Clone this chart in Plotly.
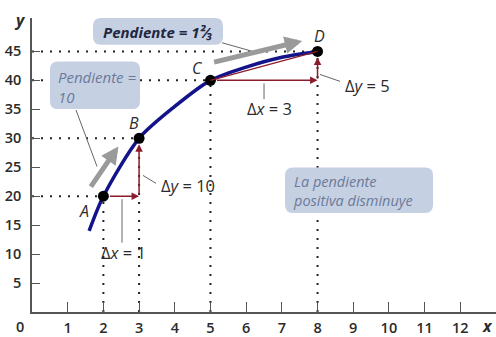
import plotly.graph_objects as go

# ---- data ----
curve_x = [1.6, 2, 3, 4, 5, 6, 7, 8]
curve_y = [14, 20, 30, 35.5, 40, 42.3, 44, 45]
point_labels = ["A", "B", "C", "D"]
point_x = [2, 3, 5, 8]
point_y = [20, 30, 40, 45]
x_ticks = [1, 2, 3, 4, 5, 6, 7, 8, 9, 10, 11, 12]
y_ticks = [5, 10, 15, 20, 25, 30, 35, 40, 45]

RED = "#8c1c2c"
GRAY = "#9a9a9a"
BOX = "#c6d0e3"
BOXTXT = "#6b7b99"
TXT = "#2b2b2b"
FONT = "Open Sans"

fig = go.Figure()

shapes = []
# dotted guides
for px, py in zip(point_x, point_y):
    shapes.append(dict(type="line", xref="x", yref="y", x0=0, x1=px, y0=py, y1=py,
                       line=dict(color="#222", width=2, dash="2px,7px"), layer="below"))
    shapes.append(dict(type="line", xref="x", yref="y", x0=px, x1=px, y0=0, y1=py,
                       line=dict(color="#222", width=2, dash="2px,7px"), layer="below"))


def X(p):
    return (p - 32) / 35.69


def Y(p):
    return (315 - p) / 5.85


def rrect(x0, y0, x1, y1, r=8):
    path = (f"M {X(x0+r)},{Y(y0)} L {X(x1-r)},{Y(y0)} Q {X(x1)},{Y(y0)} {X(x1)},{Y(y0+r)} "
            f"L {X(x1)},{Y(y1-r)} Q {X(x1)},{Y(y1)} {X(x1-r)},{Y(y1)} "
            f"L {X(x0+r)},{Y(y1)} Q {X(x0)},{Y(y1)} {X(x0)},{Y(y1-r)} "
            f"L {X(x0)},{Y(y0+r)} Q {X(x0)},{Y(y0)} {X(x0+r)},{Y(y0)} Z")
    return dict(type="path", xref="x", yref="y", path=path, fillcolor=BOX,
                line=dict(width=0), layer="above")


def pline(x0, y0, x1, y1, color="#666", width=1):
    return dict(type="line", xref="x", yref="y", x0=X(x0), x1=X(x1), y0=Y(y0), y1=Y(y1),
                line=dict(color=color, width=width), layer="above")


# secant line C-D
shapes.append(dict(type="line", xref="x", yref="y", x0=5, y0=40, x1=8, y1=45,
                   line=dict(color=RED, width=1.2)))

shapes.append(rrect(93, 18, 223, 45))
shapes.append(rrect(50, 62, 140, 110))
shapes.append(rrect(285, 169, 433, 215))
# leader lines
shapes.append(pline(222, 43, 257, 53))
shapes.append(pline(76, 111, 97, 168))
shapes.append(pline(143, 177, 156, 185))
shapes.append(pline(320, 75, 340, 82))
shapes.append(pline(264, 84, 264, 100))
shapes.append(pline(122, 201, 122, 245))

fig.add_trace(go.Scatter(x=curve_x, y=curve_y, mode="lines",
                         line=dict(color="#14148a", width=3.5, shape="spline", smoothing=0.8),
                         hoverinfo="skip", showlegend=False))
fig.add_trace(go.Scatter(x=point_x, y=point_y, mode="markers",
                         marker=dict(color="black", size=11), showlegend=False))

ann = []
# red delta arrows
ann.append(dict(x=3, y=20, ax=2, ay=20, xref="x", yref="y", axref="x", ayref="y",
                showarrow=True, arrowhead=2, arrowsize=1, arrowwidth=1.5, arrowcolor=RED,
                startstandoff=5, text=""))
ann.append(dict(x=3, y=30, ax=3, ay=20, xref="x", yref="y", axref="x", ayref="y",
                showarrow=True, arrowhead=2, arrowsize=1, arrowwidth=1.5, arrowcolor=RED,
                standoff=6, text=""))
ann.append(dict(x=8, y=40, ax=5, ay=40, xref="x", yref="y", axref="x", ayref="y",
                showarrow=True, arrowhead=2, arrowsize=1, arrowwidth=1.5, arrowcolor=RED,
                startstandoff=5, text=""))
ann.append(dict(x=8, y=45, ax=8, ay=40, xref="x", yref="y", axref="x", ayref="y",
                showarrow=True, arrowhead=2, arrowsize=1, arrowwidth=1.5, arrowcolor=RED,
                standoff=6, text=""))
# gray slope arrows
ann.append(dict(x=7.57, y=46.8, ax=5.06, ay=43.1, xref="x", yref="y", axref="x", ayref="y",
                showarrow=True, arrowhead=2, arrowsize=0.7, arrowwidth=5, arrowcolor=GRAY, text=""))
ann.append(dict(x=2.42, y=28.6, ax=1.62, ay=21.4, xref="x", yref="y", axref="x", ayref="y",
                showarrow=True, arrowhead=2, arrowsize=0.7, arrowwidth=5, arrowcolor=GRAY, text=""))

# point labels
lab_off = {"A": (-0.55, -2.6), "B": (-0.15, 2.6), "C": (-0.35, 2.2), "D": (0.05, 2.6)}
for l, px, py in zip(point_labels, point_x, point_y):
    dx, dy = lab_off[l]
    ann.append(dict(x=px + dx, y=py + dy, xref="x", yref="y", text=f"<i>{l}</i>",
                    showarrow=False, font=dict(family=FONT, size=16, color=TXT)))

# delta texts
DF = dict(family=FONT, size=16.5, color=TXT)
ann.append(dict(x=X(188), y=Y(187), xref="x", yref="y", text="Δ<i>y</i> = 10",
                showarrow=False, font=DF))
ann.append(dict(x=X(123), y=Y(255), xref="x", yref="y", text="Δ<i>x</i> = 1",
                showarrow=False, font=DF))
ann.append(dict(x=X(269), y=Y(109), xref="x", yref="y", text="Δ<i>x</i> = 3",
                showarrow=False, font=DF))
ann.append(dict(x=X(367), y=Y(86), xref="x", yref="y", text="Δ<i>y</i> = 5",
                showarrow=False, font=DF))

# callout texts
ann.append(dict(x=X(158), y=Y(32), xref="x", yref="y",
                text="<b><i>Pendiente = 1²⁄₃</i></b>", showarrow=False,
                font=dict(family=FONT, size=15, color="#1e2740")))
ann.append(dict(x=X(56), y=Y(88), xref="x", yref="y", xanchor="left",
                align="left", text="<i>Pendiente =<br>10</i>", showarrow=False,
                font=dict(family=FONT, size=15, color=BOXTXT)))
ann.append(dict(x=X(291), y=Y(193), xref="x", yref="y", xanchor="left",
                align="left", text="<i>La pendiente<br>positiva disminuye</i>", showarrow=False,
                font=dict(family=FONT, size=14.5, color=BOXTXT)))

# axis end labels
ann.append(dict(x=0, y=0, xref="x", yref="y", xshift=-12, yshift=-14, text="0",
                showarrow=False, font=dict(family=FONT, size=14.5, color=TXT, weight=600)))
ann.append(dict(x=0, y=50.77, xref="x", yref="y", xshift=-12, yshift=-2, text="<b><i>y</i></b>",
                showarrow=False, font=dict(family=FONT, size=16, color=TXT)))
ann.append(dict(x=13, y=0, xref="x", yref="y", xshift=-1, yshift=-14, xanchor="right",
                text="<b><i>x</i></b>", showarrow=False, font=dict(family=FONT, size=16, color=TXT)))

fig.update_layout(
    width=496, height=337,
    margin=dict(l=32, r=0, t=18, b=22),
    paper_bgcolor="white", plot_bgcolor="white",
    shapes=shapes, annotations=ann, showlegend=False,
    xaxis=dict(range=[0, 13], tickvals=x_ticks, ticktext=[str(v) for v in x_ticks],
               ticks="inside", ticklen=10, tickcolor="#555", tickwidth=1.2,
               showline=True, linecolor="#555", linewidth=1.5, showgrid=False, zeroline=False,
               ticklabelstandoff=2,
               tickfont=dict(family=FONT, size=14.5, color=TXT, weight=600)),
    yaxis=dict(range=[0, 50.77], tickvals=y_ticks, ticks="inside", ticklen=8, tickcolor="#555",
               tickwidth=1.2, showline=True, linecolor="#555", linewidth=1.5, showgrid=False,
               zeroline=False, ticklabelstandoff=6,
               tickfont=dict(family=FONT, size=14.5, color=TXT, weight=600)),
)

fig.write_html("out.html", config={"displayModeBar": False},
               post_script="document.body.style.margin='0';document.body.style.overflow='hidden';")
